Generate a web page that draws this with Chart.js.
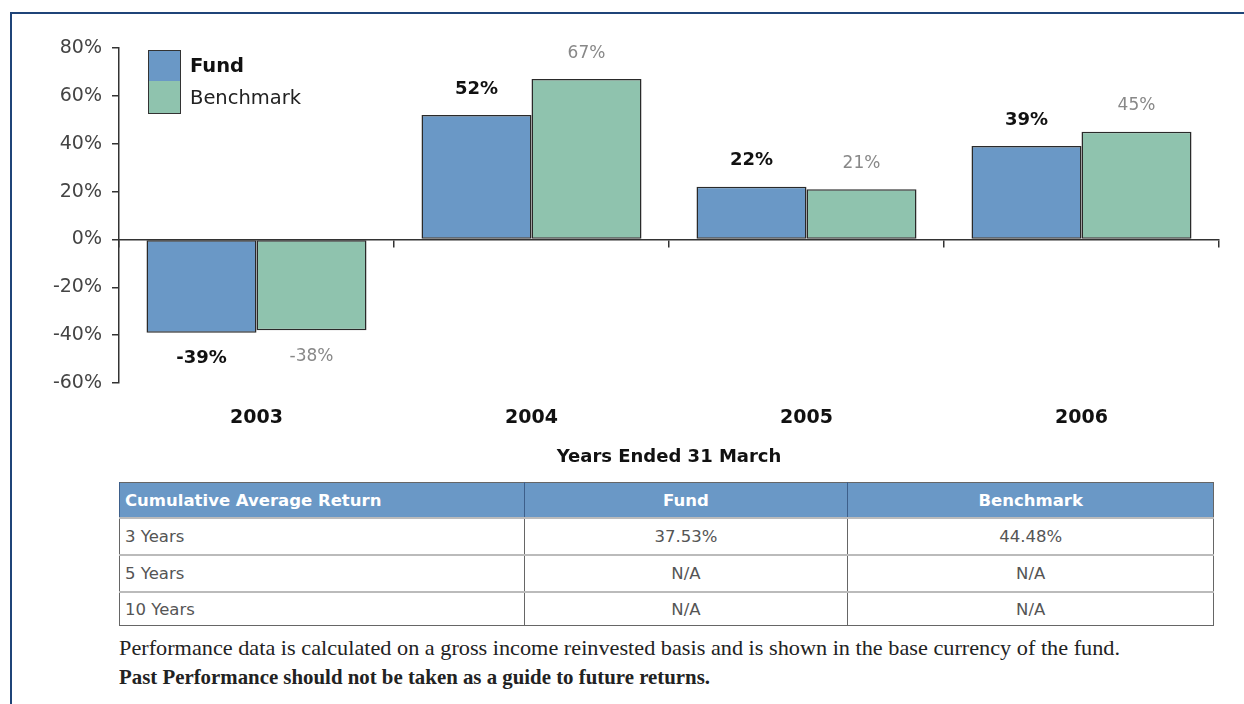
<!DOCTYPE html>
<html>
<head>
<meta charset="utf-8">
<script src="https://cdn.jsdelivr.net/npm/chart.js@4/dist/chart.umd.min.js"></script>
<style>
body { margin: 0; background: #fff; width: 1244px; height: 704px; overflow: hidden; position: relative; font-family: "DejaVu Sans", sans-serif; }
#frame { position: absolute; left: 10px; top: 12px; width: 1300px; height: 800px; border-top: 2px solid #1f4478; border-left: 2px solid #1f4478; }
#wrap { position: absolute; left: 0; top: 0; width: 1244px; height: 470px; }
#legend { position: absolute; left: 148px; top: 50px; }
#legend .item { height: 31.5px; display: flex; align-items: center; }
#legend .box { width: 31px; height: 30px; border: 1.5px solid #333; margin-right: 9px; }
#legend .item + .item .box { border-top: none; height: 31.5px; }
#legend .txt { font-family: "DejaVu Sans", sans-serif; font-size: 19.5px; color: #222; }
table { position: absolute; left: 119px; top: 482px; width: 1095px; border-collapse: collapse; border: 1.5px solid #666; font-size: 16.5px; color: #555; }
th { background: #6a98c6; color: #fff; height: 34px; padding: 0 5px; font-weight: bold; font-size: 16.5px; border-left: 1.5px solid #3d5f8a; }
th:first-child { text-align: left; }
td { height: 35px; padding: 0 5px; border-top: 2px solid #bbb; border-left: 1.5px solid #666; text-align: center; }
tr:last-child td { height: 32px; }
td:first-child { text-align: left; }
.note { position: absolute; left: 119px; font-family: "Liberation Serif", serif; font-size: 21px; color: #222; white-space: nowrap; display: inline-block; transform-origin: left center; }
</style>
</head>
<body>
<div id="frame"></div>
<div id="wrap"><canvas id="myChart" width="1244" height="470"></canvas></div>
<div id="legend"></div>
<table id="cumTable"></table>
<div class="note" id="note1" data-w="1001" style="top:636px">Performance data is calculated on a gross income reinvested basis and is shown in the base currency of the fund.</div>
<div class="note" id="note2" data-w="591" style="top:665px;font-weight:bold">Past Performance should not be taken as a guide to future returns.</div>
<script>
var years = ["2003", "2004", "2005", "2006"];
var fundReturns = [-39, 52, 22, 39];
var benchmarkReturns = [-38, 67, 21, 45];
var yTicks = [-60, -40, -20, 0, 20, 40, 60, 80];

var tableHeader = ["Cumulative Average Return", "Fund", "Benchmark"];
var periods = ["3 Years", "5 Years", "10 Years"];
var fundCumulative = ["37.53%", "N/A", "N/A"];
var benchmarkCumulative = ["44.48%", "N/A", "N/A"];

// value labels above / below each bar
var barValueLabels = {
    id: 'barValueLabels',
    afterDatasetsDraw: function (chart) {
        var ctx = chart.ctx;
        chart.data.datasets.forEach(function (ds, i) {
            var meta = chart.getDatasetMeta(i);
            meta.data.forEach(function (bar, j) {
                var v = ds.data[j];
                ctx.save();
                ctx.font = ds.labelFont;
                ctx.fillStyle = ds.labelColor;
                ctx.textAlign = 'center';
                ctx.textBaseline = 'middle';
                ctx.fillText(v + '%', bar.x, v >= 0 ? bar.y - 26 : bar.y + 26);
                ctx.restore();
            });
        });
    }
};

var ctx = document.getElementById("myChart");
var myChart = new Chart(ctx, {
    type: 'bar',
    data: {
        labels: years,
        datasets: [
            {
                label: 'Fund',
                data: fundReturns,
                backgroundColor: "#6a98c6",
                borderColor: "#2a2a2a",
                borderWidth: 1.5,
                borderSkipped: false,
                barPercentage: 1,
                categoryPercentage: 0.8,
                labelFont: "bold 18px 'DejaVu Sans'",
                labelColor: "#111",
                legendBold: true
            },
            {
                label: 'Benchmark',
                data: benchmarkReturns,
                backgroundColor: "#8fc3ae",
                borderColor: "#2a2a2a",
                borderWidth: 1.5,
                borderSkipped: false,
                barPercentage: 1,
                categoryPercentage: 0.8,
                labelFont: "17px 'DejaVu Sans'",
                labelColor: "#888"
            }
        ]
    },
    options: {
        responsive: false,
        animation: false,
        layout: { padding: { left: 0, right: 25, top: 48, bottom: 0 } },
        plugins: { legend: { display: false }, tooltip: { enabled: false } },
        scales: {
            x: {
                position: 'bottom',
                grid: { display: false },
                border: { display: false },
                ticks: { padding: 16, color: '#111', font: { family: 'DejaVu Sans', size: 19, weight: 'bold' } },
                title: {
                    display: true,
                    text: 'Years Ended 31 March',
                    color: '#111',
                    font: { family: 'DejaVu Sans', size: 18, weight: 'bold' },
                    padding: { top: 0, bottom: 2 }
                },
                afterFit: function (s) { s.height = 87; }
            },
            x2: {
                type: 'category',
                position: { y: 0 },
                offset: true,
                ticks: { display: false },
                grid: { offset: true, drawOnChartArea: false, drawTicks: true, tickLength: 7, color: '#333', lineWidth: 1.5 },
                border: { display: true, color: '#333', width: 1.5 }
            },
            y: {
                min: -60,
                max: 80,
                afterBuildTicks: function (s) { s.ticks = yTicks.map(function (v) { return { value: v }; }); },
                ticks: {
                    callback: function (v) { return v + '%'; },
                    padding: 10,
                    color: '#444',
                    font: { family: 'DejaVu Sans', size: 19 }
                },
                grid: { drawOnChartArea: false, tickLength: 7, color: '#333', lineWidth: 1.5 },
                border: { color: '#333', width: 1.5 },
                afterFit: function (s) { s.width = 119; }
            }
        }
    },
    plugins: [barValueLabels]
});

// legend built from the datasets
var legend = document.getElementById("legend");
myChart.data.datasets.forEach(function (ds) {
    var item = document.createElement("div");
    item.className = "item";
    item.innerHTML = '<div class="box" style="background:' + ds.backgroundColor + '"></div>' +
        '<span class="txt" style="' + (ds.legendBold ? 'font-weight:bold;color:#111' : '') + '">' + ds.label + '</span>';
    legend.appendChild(item);
});

// summary table
var table = document.getElementById("cumTable");
var html = '<colgroup><col style="width:405px"><col style="width:324px"><col style="width:366px"></colgroup><tr>';
tableHeader.forEach(function (h) { html += '<th>' + h + '</th>'; });
html += '</tr>';
periods.forEach(function (p, i) {
    html += '<tr><td>' + p + '</td><td>' + fundCumulative[i] + '</td><td>' + benchmarkCumulative[i] + '</td></tr>';
});
table.innerHTML = html;

// stretch the footnotes to the width they have in the source
document.querySelectorAll('.note').forEach(function (el) {
    var w = el.getBoundingClientRect().width;
    el.style.transform = 'scaleX(' + (+el.dataset.w / w) + ')';
});
</script>
</body>
</html>
